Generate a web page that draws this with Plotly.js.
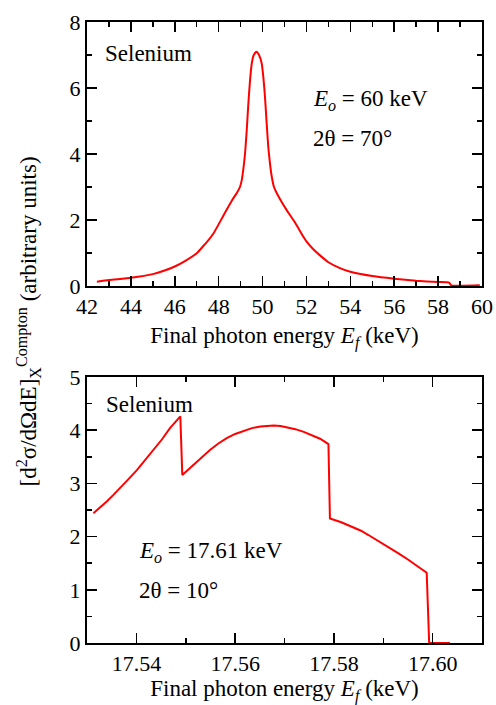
<!DOCTYPE html>
<html>
<head>
<meta charset="utf-8">
<script src="https://cdn.plot.ly/plotly-3.0.1.min.js"></script>
<style>
  html, body { margin: 0; padding: 0; background: #fff; }
  #chart { width: 496px; height: 705px; }
</style>
</head>
<body>
<div id="chart"></div>
<script>
// ---- Top panel: Eo = 60 keV, 2theta = 70 deg ----
const topEnergy = [42.45, 43.0, 44.0, 45.0, 45.5, 46.0, 46.5, 47.0, 47.35, 47.42, 47.77, 48.23, 48.61, 48.82, 48.97,
  49.05, 49.12, 49.2, 49.28, 49.35, 49.43, 49.51, 49.6, 49.72, 49.84, 49.96, 50.04, 50.11, 50.18, 50.26, 50.34,
  50.42, 50.52, 50.65, 50.85, 51.1, 51.5, 51.86, 52.0, 52.3, 52.63, 53.0, 53.5, 54.0, 55.0, 56.0, 57.0, 58.0, 58.5, 58.6, 59.9];
const topValue = [0.13, 0.18, 0.25, 0.36, 0.46, 0.59, 0.77, 0.99, 1.25, 1.3, 1.6, 2.15, 2.6, 2.81, 3.0,
  3.2, 3.52, 4.0, 4.73, 5.5, 6.24, 6.75, 7.0, 7.1, 7.0, 6.75, 6.3, 5.74, 5.0, 4.22, 3.7,
  3.31, 3.0, 2.81, 2.57, 2.3, 1.9, 1.49, 1.35, 1.12, 0.92, 0.72, 0.55, 0.43, 0.3, 0.22, 0.16, 0.12, 0.1, 0.02, 0.02];
const topXTicks = [42, 44, 46, 48, 50, 52, 54, 56, 58, 60];
const topYTicks = [0, 2, 4, 6, 8];

// ---- Bottom panel: Eo = 17.61 keV, 2theta = 10 deg ----
const botEnergy = [17.5313, 17.5327, 17.5340, 17.5353, 17.5367, 17.5384, 17.5401, 17.5418, 17.5435, 17.5452, 17.5468, 17.5489,
  17.5493, 17.5505, 17.5516, 17.5532, 17.5549, 17.5566, 17.5583, 17.5600, 17.5617, 17.5634, 17.5651, 17.5665, 17.5678,
  17.5692, 17.5705, 17.5722, 17.5739, 17.5756, 17.5772, 17.5789,
  17.5792, 17.5815, 17.5839, 17.5855, 17.5870, 17.5890, 17.5907, 17.5930, 17.5950, 17.5970, 17.5988,
  17.5993, 17.6035];
const botValue = [2.44, 2.55, 2.66, 2.78, 2.91, 3.08, 3.25, 3.44, 3.63, 3.83, 4.04, 4.26,
  3.16, 3.26, 3.35, 3.50, 3.63, 3.75, 3.85, 3.93, 3.99, 4.04, 4.07, 4.085, 4.09,
  4.08, 4.06, 4.02, 3.97, 3.91, 3.84, 3.74,
  2.34, 2.27, 2.18, 2.11, 2.03, 1.92, 1.81, 1.69, 1.57, 1.44, 1.32,
  0.0, 0.0];
const botXTicks = [17.54, 17.56, 17.58, 17.60];
const botXText = ["17.54", "17.56", "17.58", "17.60"];
const botYTicks = [0, 1, 2, 3, 4, 5];

const FONT = "'Liberation Serif', 'Times New Roman', 'DejaVu Serif', serif";
const RED = "#ff0000";

const traces = [
  { x: topEnergy, y: topValue, xaxis: "x", yaxis: "y", mode: "lines",
    line: { color: RED, width: 2, shape: "spline", smoothing: 0.5 }, hoverinfo: "skip" },
  { x: botEnergy, y: botValue, xaxis: "x2", yaxis: "y2", mode: "lines",
    line: { color: RED, width: 2 }, hoverinfo: "skip" }
];

function axisBase() {
  return {
    showline: true, linecolor: "#000", linewidth: 2, mirror: "ticks",
    ticks: "inside", ticklen: 10, tickwidth: 1.5, tickcolor: "#000",
    showgrid: false, zeroline: false,
    tickfont: { family: FONT, size: 22, color: "#000" }
  };
}

const TITLE_FONT = { family: FONT, size: 23, color: "#000" };

const layout = {
  width: 496, height: 705,
  margin: { l: 87, r: 14, t: 22, b: 62 },
  paper_bgcolor: "#fff", plot_bgcolor: "#fff",
  showlegend: false,
  font: { family: FONT, size: 22, color: "#000" },
  xaxis: Object.assign(axisBase(), {
    domain: [0, 1], anchor: "y", range: [42, 60], tickvals: topXTicks,
    minor: { dtick: 1, tick0: 42, ticks: "inside", ticklen: 5, tickwidth: 1.5, tickcolor: "#000" },
    title: { text: "Final photon energy <i>E<sub>f</sub></i> (keV)", font: TITLE_FONT, standoff: 9 }
  }),
  yaxis: Object.assign(axisBase(), {
    domain: [0.5749, 1], anchor: "x", range: [0, 8], tickvals: topYTicks,
    minor: { dtick: 1, tick0: 0, ticks: "inside", ticklen: 5, tickwidth: 1.5, tickcolor: "#000" }
  }),
  xaxis2: Object.assign(axisBase(), {
    domain: [0, 1], anchor: "y2", range: [17.53, 17.61], tickvals: botXTicks, ticktext: botXText,
    minor: { dtick: 0.01, tick0: 17.53, ticks: "inside", ticklen: 5, tickwidth: 1.5, tickcolor: "#000" },
    title: { text: "Final photon energy <i>E<sub>f</sub></i> (keV)", font: TITLE_FONT, standoff: 13 }
  }),
  yaxis2: Object.assign(axisBase(), {
    domain: [0, 0.4283], anchor: "x2", range: [0, 5], tickvals: botYTicks,
    minor: { dtick: 0.5, tick0: 0, ticks: "inside", ticklen: 5, tickwidth: 1.5, tickcolor: "#000" }
  }),
  annotations: [
    { xref: "x", yref: "y", x: 42.75, y: 7.06, xanchor: "left", yanchor: "middle", showarrow: false,
      text: "Selenium", font: TITLE_FONT },
    { xref: "x", yref: "y", x: 52.2, y: 5.64, xanchor: "left", yanchor: "middle", showarrow: false,
      text: "<i>E<sub>o</sub></i> = 60 keV", font: TITLE_FONT },
    { xref: "x", yref: "y", x: 52.2, y: 4.48, xanchor: "left", yanchor: "middle", showarrow: false,
      text: "2θ = 70°", font: TITLE_FONT },
    { xref: "x2", yref: "y2", x: 17.5335, y: 4.48, xanchor: "left", yanchor: "middle", showarrow: false,
      text: "Selenium", font: TITLE_FONT },
    { xref: "x2", yref: "y2", x: 17.5402, y: 1.71, xanchor: "left", yanchor: "middle", showarrow: false,
      text: "<i>E<sub>o</sub></i> = 17.61 keV", font: TITLE_FONT },
    { xref: "x2", yref: "y2", x: 17.5402, y: 0.99, xanchor: "left", yanchor: "middle", showarrow: false,
      text: "2θ = 10°", font: TITLE_FONT },
    { xref: "paper", yref: "paper", x: -0.148, y: 0.517, xanchor: "center", yanchor: "middle", showarrow: false,
      textangle: -90,
      text: "[d<sup>2</sup>σ/dΩdE]<sub>X</sub><sup>Compton</sup> (arbitrary units)",
      font: TITLE_FONT }
  ]
};

Plotly.newPlot("chart", traces, layout, { displayModeBar: false, staticPlot: true });
</script>
</body>
</html>
